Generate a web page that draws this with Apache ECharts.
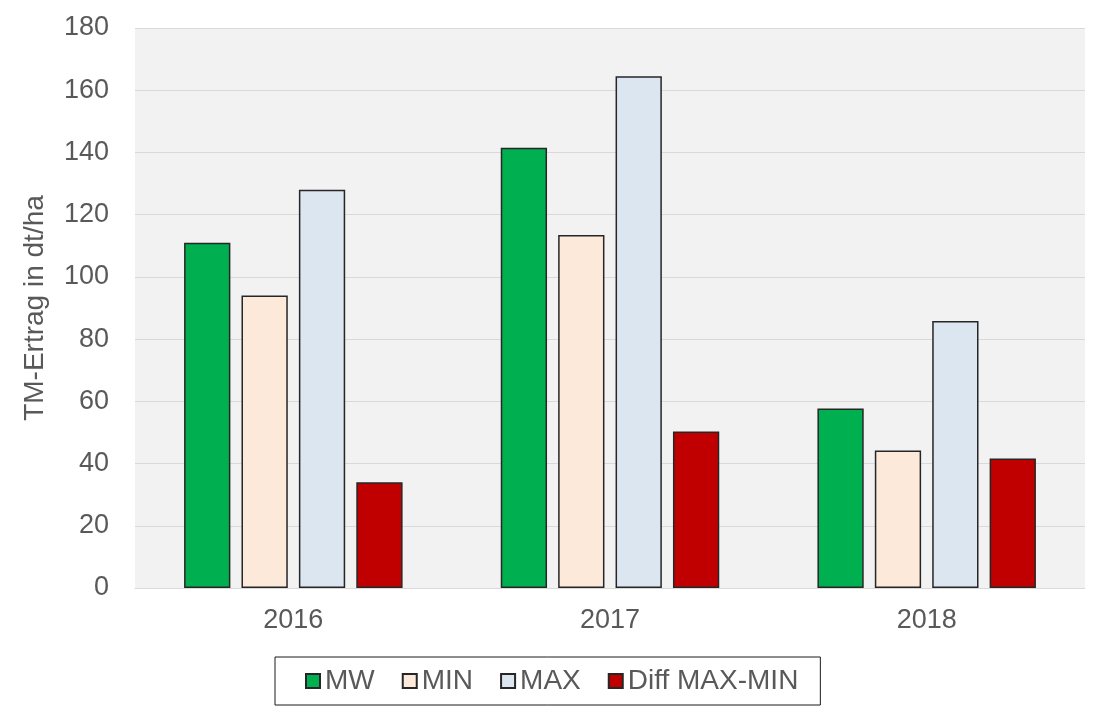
<!DOCTYPE html>
<html><head><meta charset="utf-8">
<script src="https://cdn.jsdelivr.net/npm/echarts@6/dist/echarts.min.js"></script>
<style>html,body{margin:0;padding:0;background:#fff}#c{width:1100px;height:723px}</style>
</head><body><div id="c"></div>
<script>
const categories = ['2016', '2017', '2018'];
const seriesNames = ['MW', 'MIN', 'MAX', 'Diff MAX-MIN'];
const mw = [111, 141.5, 57.7];
const minV = [94, 113.5, 44.2];
const maxV = [128, 164.5, 85.8];
const diff = [34, 50.3, 41.6];
const yTicks = [0, 20, 40, 60, 80, 100, 120, 140, 160, 180];
const colors = ['#00b050', '#fde9d9', '#dce6f1', '#c00000'];
const values = [mw, minV, maxV, diff];

const chart = echarts.init(document.getElementById('c'));
const font = 'Liberation Sans, Arial, sans-serif';
chart.setOption({
  animation: false,
  grid: { left: 135, right: 15, top: 28, bottom: 135, show: true, backgroundColor: '#f2f2f2', borderWidth: 0 },
  legend: {
    data: seriesNames,
    left: 275, top: 657,
    padding: [10, 22, 10, 30],
    borderColor: '#1a1a1a', borderWidth: 1,
    itemWidth: 14, itemHeight: 14, itemGap: 27,
    icon: 'rect',
    textStyle: { fontFamily: font, fontSize: 28, color: '#595959' }
  },
  xAxis: {
    type: 'category', data: categories,
    axisLine: { lineStyle: { color: '#d9d9d9', width: 1 } },
    axisTick: { show: false },
    axisLabel: { fontFamily: font, fontSize: 27, color: '#595959', margin: 19 }
  },
  yAxis: {
    type: 'value', min: yTicks[0], max: yTicks[yTicks.length - 1], interval: 20,
    name: 'TM-Ertrag in dt/ha', nameLocation: 'middle', nameGap: 86,
    nameTextStyle: { fontFamily: font, fontSize: 28, color: '#595959' },
    axisLine: { show: false }, axisTick: { show: false },
    axisLabel: { fontFamily: font, fontSize: 27, color: '#595959', margin: 26 },
    splitLine: { lineStyle: { color: '#d9d9d9', width: 1 } }
  },
  series: seriesNames.map((n, i) => ({
    name: n, type: 'bar', data: values[i],
    barGap: '24%', barCategoryGap: '31%',
    itemStyle: { color: colors[i], borderColor: '#262626', borderWidth: 1.5 }
  }))
});
</script></body></html>
